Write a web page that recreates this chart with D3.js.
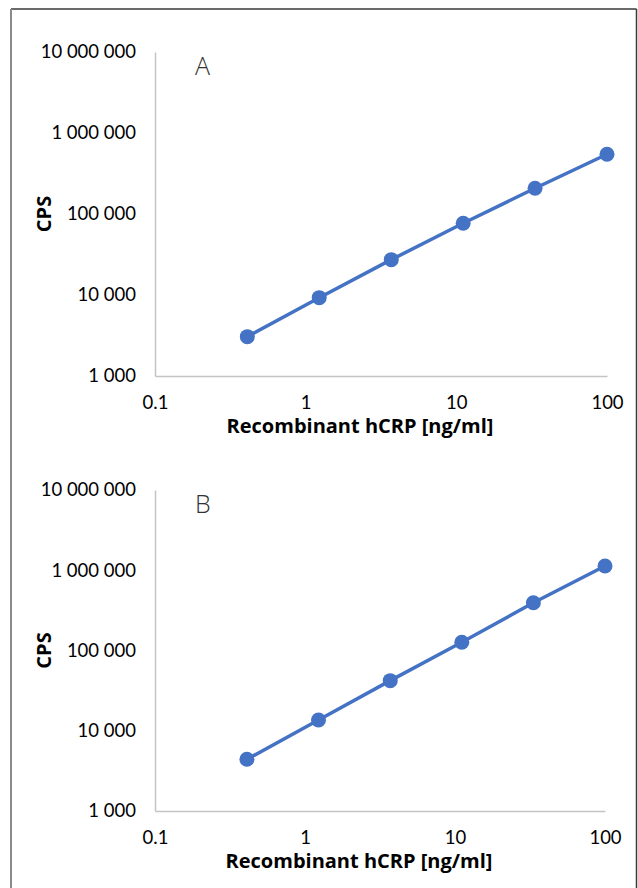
<!DOCTYPE html>
<html>
<head>
<meta charset="utf-8">
<script src="https://cdn.jsdelivr.net/npm/d3@7"></script>
<style>
    body { margin: 0; background: #fff; }
    #chart { width: 638px; height: 888px; }
    .tick text { font-family: Lato, "Open Sans", sans-serif; font-size: 18.5px; fill: #000; }
    .axis-title { font-family: "Open Sans", Lato, sans-serif; font-weight: bold; font-size: 20px; fill: #000; }
    .panel-letter { font-family: "Open Sans", "DejaVu Sans", sans-serif; font-weight: 300; font-size: 25px; fill: #333; }
</style>
</head>
<body>
<div id="chart"></div>
<script>
// concentrations of the recombinant hCRP standards (ng/ml)
const concentrations = [0.41, 1.23, 3.7, 11.1, 33.3, 100];
// measured counts per second
const cpsA = [3060, 9270, 27300, 76800, 208000, 546000];
const cpsB = [4410, 13600, 42100, 126500, 394000, 1130000];

const xTickValues = [0.1, 1, 10, 100];
const yTickValues = [1000, 10000, 100000, 1000000, 10000000];
const panelLetters = ["A", "B"];
const xTitle = "Recombinant hCRP [ng/ml]";
const yTitle = "CPS";

const spaced = d3.formatLocale({decimal: ".", thousands: " ", grouping: [3], currency: ["", ""]}).format(",");

class CalibrationPanel {
    constructor(svg, letter, values, box) {
        this.svg = svg;
        this.letter = letter;
        this.values = values;
        this.box = box;
        this.render();
    }
    render() {
        let vis = this;
        let b = vis.box;

        vis.x = d3.scaleLog().domain([0.1, 100]).range([b.left, b.right]);
        vis.y = d3.scaleLog().domain([1000, 10000000]).range([b.bottom, b.top]);

        let g = vis.svg.append("g");

        // y axis
        g.append("g")
            .attr("class", "axis y-axis")
            .attr("transform", `translate(${b.left},0)`)
            .call(d3.axisLeft(vis.y).tickValues(yTickValues).tickFormat(spaced).tickSize(0).tickPadding(19))
            .call(a => a.select(".domain").attr("stroke", "#c4c4c4").attr("stroke-width", 1.5));

        // x axis
        g.append("g")
            .attr("class", "axis x-axis")
            .attr("transform", `translate(0,${b.bottom})`)
            .call(d3.axisBottom(vis.x).tickValues(xTickValues).tickFormat(d => d).tickSize(0).tickPadding(20))
            .call(a => a.select(".domain").attr("stroke", "#c4c4c4").attr("stroke-width", 1.5));

        g.selectAll(".tick text").attr("font-family", null).attr("font-size", null);

        // axis titles
        g.append("text")
            .attr("class", "axis-title")
            .attr("x", (b.left + b.right) / 2 - 21)
            .attr("y", b.bottom + 57)
            .attr("text-anchor", "middle")
            .text(xTitle);

        g.append("text")
            .attr("class", "axis-title")
            .attr("transform", `translate(51,${(b.top + b.bottom) / 2}) rotate(-90)`)
            .attr("text-anchor", "middle")
            .text(yTitle);

        // panel letter
        g.append("text")
            .attr("class", "panel-letter")
            .attr("x", b.left + 40)
            .attr("y", b.top + 23)
            .text(vis.letter);

        let pts = concentrations.map((c, i) => ({c: c, v: vis.values[i]}));

        g.append("path")
            .datum(pts)
            .attr("fill", "none")
            .attr("stroke", "#4472c4")
            .attr("stroke-width", 3.5)
            .attr("d", d3.line().x(d => vis.x(d.c)).y(d => vis.y(d.v)));

        g.selectAll(".pt")
            .data(pts)
            .enter()
            .append("circle")
            .attr("class", "pt")
            .attr("cx", d => vis.x(d.c))
            .attr("cy", d => vis.y(d.v))
            .attr("r", 7.5)
            .attr("fill", "#4472c4");
    }
}

let svg = d3.select("#chart").append("svg")
    .attr("width", 638)
    .attr("height", 888);

// frame around the figure
svg.append("line").attr("x1", 11).attr("x2", 636.5).attr("y1", 9).attr("y2", 9)
    .attr("stroke", "#3a3a3a").attr("stroke-width", 1.5);
svg.append("line").attr("x1", 636.5).attr("x2", 636.5).attr("y1", 9).attr("y2", 890)
    .attr("stroke", "#3a3a3a").attr("stroke-width", 1.5);
svg.append("line").attr("x1", 11).attr("x2", 11).attr("y1", 9).attr("y2", 890)
    .attr("stroke", "#8a8a8a").attr("stroke-width", 2);

new CalibrationPanel(svg, panelLetters[0], cpsA, {left: 155, right: 607, top: 52, bottom: 376});
new CalibrationPanel(svg, panelLetters[1], cpsB, {left: 155, right: 605, top: 490, bottom: 811});
</script>
</body>
</html>
